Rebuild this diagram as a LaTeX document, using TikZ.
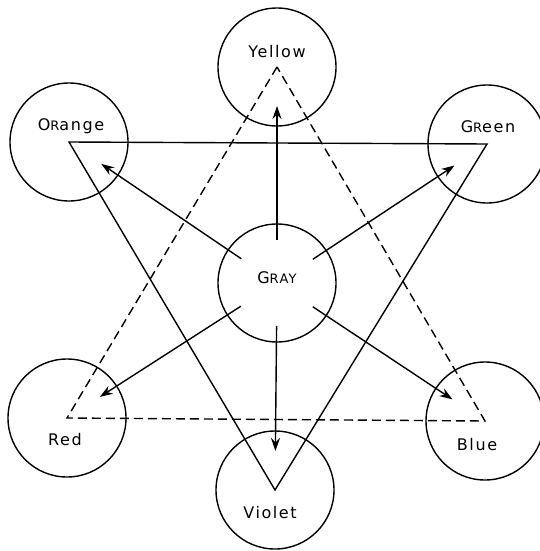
\documentclass[tikz,border=0pt]{standalone}
\usepackage{fontspec}
\usepackage{tikz}
\usetikzlibrary{arrows.meta, positioning, calc}
\newfontfamily\lettering[LetterSpace=10]{DejaVu Sans}
\newcommand{\smallcap}[1]{{\fontsize{13}{15}\selectfont #1}}

\begin{document}
\begin{tikzpicture}[
    x=1pt, y=-1pt,
    hue/.style={circle, draw, line width=1.4pt, minimum size=118pt, inner sep=0pt},
    tag/.style={font=\lettering\fontsize{16}{18}\selectfont, inner sep=0pt},
    side/.style={line width=1.4pt},
    dside/.style={line width=1.4pt, dash pattern=on 9pt off 5pt},
    arrow/.style={-{Stealth[length=13pt, width=9pt]}, line width=1.4pt}
]
\useasboundingbox (0,0) rectangle (539,551);

% ---- Colour circles ----
\node[hue] (gray)   at (277,283) {};
\node[hue] (yellow) at (277,67)  {};
\node[hue] (orange) at (69,142)  {};
\node[hue] (green)  at (487,144) {};
\node[hue] (red)    at (67,418)  {};
\node[hue] (blue)   at (485,421) {};
\node[hue] (violet) at (275,490) {};

% ---- Names ----
\node[tag] (graytxt)   at ([yshift=5pt]gray.center)          {G\smallcap{RAY}};
\node[tag] (yellowtxt) at ([yshift=15pt]yellow.center)       {Yellow};
\node[tag] (orangetxt) at ([xshift=2pt,yshift=16pt]orange.center) {O\smallcap{R}ange};
\node[tag] (greentxt)  at ([xshift=1pt,yshift=17pt]green.center)  {G\smallcap{R}een};
\node[tag] (redtxt)    at ([xshift=-2pt,yshift=-22pt]red.center)  {Red};
\node[tag] (bluetxt)   at ([xshift=-8pt,yshift=-24pt]blue.center) {Blue};
\node[tag] (violettxt) at ([xshift=-5pt,yshift=-23pt]violet.center) {Violet};

% ======== Triangles ========
\draw[side]  (orange.center) -- (green.center) -- (violet.center) -- cycle;
\draw[dside] (yellow.center) -- (red.center) -- (blue.center) -- cycle;

% ======== Arrows out of gray ========
\foreach \c in {yellow, green, blue, violet, red, orange}
    \draw[arrow] ($(gray.center)!43pt!(\c.center)$) -- ($(\c.center)!39pt!(gray.center)$);

\end{tikzpicture}
\end{document}
